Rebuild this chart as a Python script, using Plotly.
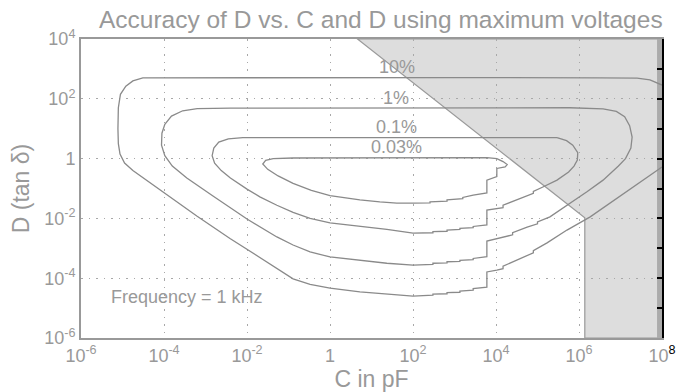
import numpy as np
import plotly.graph_objects as go

# ---- data (log10 of C in pF, log10 of D) ----
logC_10 = [8.00, 7.71, 7.40, 6.50, 3.00, -3.00, -4.20, -4.51, -4.75, -4.92, -5.05, -5.10, -5.11, -5.10,
           -5.06, -4.95, -4.75, -4.45, -4.02, -3.21, -2.41, -1.85, -1.28, -0.89, -0.48, 0.00, 0.72, 1.37,
           2.00, 2.48, 2.48, 2.82, 2.82, 3.13, 3.13, 3.45, 3.45, 3.78, 3.78, 4.02, 4.17, 4.17, 4.65,
           4.90, 4.90, 5.23, 5.71, 6.27, 8.00]
logD_10 = [2.46, 2.63, 2.69, 2.70, 2.71, 2.72, 2.72, 2.70, 2.60, 2.42, 2.15, 1.70, 1.00, 0.50,
           0.15, -0.15, -0.40, -0.70, -1.12, -1.92, -2.67, -3.17, -3.70, -4.02, -4.21, -4.33, -4.46, -4.53,
           -4.60, -4.57, -4.53, -4.52, -4.48, -4.47, -4.43, -4.40, -4.35, -4.30, -3.79, -3.73, -3.68, -3.60, -3.29,
           -3.15, -3.08, -2.82, -2.39, -1.95, -0.28]

logC_1 = [5.78, 6.58, 6.90, 7.10, 7.22, 7.28, 7.25, 7.12, 6.95, 6.58, 6.20, 5.71, 5.30, 5.00, 5.00,
          4.75, 4.40, 4.40, 4.17, 3.78, 3.78, 3.45, 3.45, 3.13, 3.13, 2.82, 2.82, 2.48, 2.48, 2.00,
          1.37, 0.72, 0.00, -0.48, -0.89, -1.28, -1.69, -2.00, -2.82, -3.45, -3.80, -3.98, -4.06,
          -4.05, -3.98, -3.82, -3.55, -3.20, -2.40, 0.00, 5.78]
logD_1 = [1.70, 1.66, 1.58, 1.40, 1.10, 0.72, 0.35, 0.00, -0.25, -0.72, -1.10, -1.55, -1.95, -2.12, -2.18,
          -2.29, -2.48, -2.55, -2.62, -2.76, -3.28, -3.34, -3.38, -3.40, -3.44, -3.45, -3.49, -3.50, -3.54, -3.56,
          -3.50, -3.40, -3.29, -3.12, -2.89, -2.62, -2.29, -2.02, -1.25, -0.65, -0.25, 0.10, 0.45,
          0.85, 1.15, 1.42, 1.60, 1.67, 1.69, 1.70, 1.70]

logC_01 = [5.47, 5.70, 5.85, 5.97, 5.96, 5.88, 5.75, 5.47, 5.13, 4.90, 4.90, 4.65, 4.40, 4.17, 4.17,
           3.78, 3.78, 3.45, 3.45, 3.13, 3.13, 2.82, 2.82, 2.48, 2.48, 2.00, 1.37, 0.72, 0.00, -0.48,
           -0.89, -1.28, -1.69, -2.00, -2.40, -2.62, -2.78, -2.84, -2.80, -2.68, -2.45, -2.10, 0.00, 5.47]
logD_01 = [0.70, 0.60, 0.45, 0.20, -0.05, -0.25, -0.45, -0.72, -0.95, -1.10, -1.16, -1.30, -1.45, -1.56, -1.64,
           -1.72, -2.22, -2.27, -2.31, -2.33, -2.37, -2.39, -2.43, -2.44, -2.48, -2.49, -2.37, -2.26, -2.15, -2.00,
           -1.80, -1.56, -1.28, -1.02, -0.65, -0.40, -0.15, 0.10, 0.35, 0.55, 0.66, 0.70, 0.70, 0.70]

logC_003 = [3.78, 4.02, 4.17, 4.27, 4.22, 4.02, 4.02, 3.78, 3.78, 3.45, 3.20, 3.20, 2.82, 2.82, 2.41, 2.41,
            2.00, 1.61, 1.20, 0.72, 0.00, -0.45, -0.89, -1.25, -1.50, -1.62, -1.55, -1.37, -0.89, 3.78]
logD_003 = [0.03, 0.00, -0.10, -0.20, -0.28, -0.33, -0.60, -0.72, -1.15, -1.22, -1.30, -1.34, -1.38, -1.42, -1.45, -1.48,
            -1.49, -1.49, -1.45, -1.38, -1.24, -1.06, -0.83, -0.58, -0.36, -0.18, -0.06, 0.00, 0.02, 0.03]

curves = [("10%", logC_10, logD_10), ("1%", logC_1, logD_1),
          ("0.1%", logC_01, logD_01), ("0.03%", logC_003, logD_003)]

# region beyond the maximum voltage limit (C in pF, D)
shade_c = [4.6, 1.38e6, 1.38e6, 1e8, 1e8]
shade_d = [1e4, 1.05e-2, 1e-6, 1e-6, 1e4]
strip_c = [7.6e7, 1e8]

# curve label positions (log10 C, log10 D)
label_text = ["10%", "1%", "0.1%", "0.03%"]
label_logC = [1.61, 1.59, 1.61, 1.61]
label_logD = [3.06, 2.03, 1.06, 0.39]

x_tickvals = [1e-6, 1e-4, 1e-2, 1, 1e2, 1e4, 1e6, 1e8]
x_ticktext = ["10<sup>-6</sup>", "10<sup>-4</sup>", "10<sup>-2</sup>", "1", "10<sup>2</sup>",
              "10<sup>4</sup>", "10<sup>6</sup>", "10<sup><span style='color:#000000'>8</span></sup>"]
y_tickvals = [1e-6, 1e-4, 1e-2, 1, 1e2, 1e4]
y_ticktext = ["10<sup>-6</sup>", "10<sup>-4</sup>", "10<sup>-2</sup>", "1", "10<sup>2</sup>", "10<sup>4</sup>"]
right_ticks = [10.0 ** k for k in range(-6, 5)]

GRAY = "#999999"
FONT = "Liberation Sans, Arial, sans-serif"
GRID_DASH = "1.5px,6px"

fig = go.Figure()
for name, lc, ld in curves:
    fig.add_trace(go.Scatter(x=10 ** np.array(lc), y=10 ** np.array(ld), mode="lines",
                             line=dict(color="#8a8a8a", width=1.3), name=name,
                             showlegend=False, hoverinfo="skip"))
fig.add_trace(go.Scatter(x=[1e-6], y=[1e-6], yaxis="y2", mode="markers",
                         marker=dict(opacity=0), showlegend=False, hoverinfo="skip"))

path = "M " + " L ".join(f"{c},{d}" for c, d in zip(shade_c, shade_d)) + " Z"
shapes = [
    dict(type="path", path=path, xref="x", yref="y", layer="below",
         fillcolor="#dddddd", line=dict(color="#9a9a9a", width=1.2)),
    dict(type="rect", x0=strip_c[0], x1=strip_c[1], y0=shade_d[2], y1=shade_d[0],
         xref="x", yref="y", layer="below", fillcolor="#ababab", line=dict(width=0)),
]

annotations = [dict(x=xc, y=yd, xref="x", yref="y", text=t, showarrow=False,
                    font=dict(size=18, color=GRAY, family=FONT))
               for t, xc, yd in zip(label_text, label_logC, label_logD)]
annotations.append(dict(x=-3.45, y=-4.63, xref="x", yref="y", text="Frequency = 1 kHz",
                        showarrow=False, font=dict(size=18, color=GRAY, family=FONT)))

fig.update_layout(
    width=676, height=392,
    margin=dict(l=81, r=14, t=39, b=54, autoexpand=False),
    paper_bgcolor="white", plot_bgcolor="white",
    font=dict(family=FONT, color=GRAY, size=18),
    title=dict(text="Accuracy of D vs. C and D using maximum voltages", x=0.516, xref="paper",
               y=1 - 19 / 392, yref="container", yanchor="middle", xanchor="center",
               font=dict(size=24.5, color=GRAY, family=FONT)),
    xaxis=dict(type="log", range=[-6, 8], tickvals=x_tickvals, ticktext=x_ticktext,
               showgrid=True, gridcolor="#a8a8a8", griddash=GRID_DASH, gridwidth=1.2,
               showline=True, linecolor=GRAY, linewidth=2, mirror=True, ticks="",
               zeroline=False, tickfont=dict(size=18, color=GRAY), automargin=False,
               title=dict(text="C in pF", font=dict(size=23, color=GRAY), standoff=6)),
    yaxis=dict(type="log", range=[-6, 4], tickvals=y_tickvals, ticktext=y_ticktext,
               showgrid=True, gridcolor="#a8a8a8", griddash=GRID_DASH, gridwidth=1.2,
               showline=True, linecolor=GRAY, linewidth=2, mirror=False, ticks="",
               zeroline=False, tickfont=dict(size=18, color=GRAY), automargin=False,
               title=dict(text="D (tan δ)", font=dict(size=23, color=GRAY), standoff=8)),
    yaxis2=dict(type="log", range=[-6, 4], overlaying="y", side="right", showline=True,
                linecolor="black", linewidth=2, ticks="inside", tickvals=right_ticks,
                ticklen=5, tickcolor="black", tickwidth=1.5, showticklabels=False,
                showgrid=False, zeroline=False, automargin=False),
    shapes=shapes,
    annotations=annotations,
)

fig.write_html("out.html")
